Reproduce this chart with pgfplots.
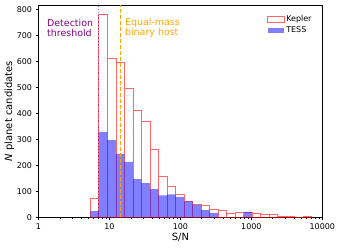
\documentclass[border=0pt]{standalone}
\usepackage{pgfplots}
\pgfplotsset{compat=1.18}
\usepackage{fontspec}
\setmainfont{DejaVu Sans}
\definecolor{kep}{RGB}{255,0,0}
\definecolor{tess}{RGB}{0,0,255}
\definecolor{detcol}{RGB}{128,0,128}
\definecolor{eqcol}{RGB}{255,165,0}
\begin{document}
\begin{tikzpicture}
\begin{axis}[
  name=ax, scale only axis, width=283.8bp, height=212.3bp,
  xmode=log, xmin=1, xmax=10000, ymin=0, ymax=816,
  xtick={1,10,100,1000,10000}, xticklabels={1,10,100,1000,10000},
  minor xtick={2,3,4,5,6,7,8,9,20,30,40,50,60,70,80,90,200,300,400,500,600,700,800,900,2000,3000,4000,5000,6000,7000,8000,9000},
  ytick={0,100,...,800},
  xtick pos=bottom, ytick pos=left, tick align=outside,
  major tick length=3bp, minor tick length=1.8bp,
  every tick/.style={black, line width=0.6bp},
  axis line style={line width=0.65bp, black},
  /pgf/number format/assume math mode=true,
  tick label style={font=\fontsize{8}{9.6}\selectfont},
  xlabel={S/N}, ylabel={\textit{N} planet candidates},
  label style={font=\fontsize{8}{9.6}\selectfont},
  every axis x label/.style={at={(axis description cs:0.5,-0.094)}, anchor=center},
  every axis y label/.style={at={(axis description cs:-0.103,0.5)}, anchor=center, rotate=90},
  legend style={at={(axis description cs:1,1)}, anchor=north east, xshift=-6bp, yshift=-7bp,
    draw=none, fill=none, font=\fontsize{8}{9.6}\selectfont, row sep=0bp,
    nodes={inner sep=1.6bp}},
  legend cell align=left,
]
\addplot[ybar interval, draw=kep, draw opacity=0.6, fill=none, line width=0.8bp,
  legend image code/.code={\draw[draw=kep, draw opacity=0.6, line width=0.8bp] (0bp,-2.7bp) rectangle (16.7bp,2.7bp);}]
coordinates {
(5.386,73) (7.1,778) (9.360,610) (12.338,596) (16.265,496) (21.442,412)
(28.266,369) (37.261,261) (49.120,158) (64.753,118) (85.36,88) (112.53,61)
(148.34,50) (195.55,46) (257.78,31) (339.83,27) (447.98,15) (590.55,19)
(778.5,19) (1026.2,16) (1352.9,13) (1783.4,12) (2351.0,5) (3099.3,5)
(4085.6,0) (5385.9,5) (7100,5)
};
\addlegendentry{Kepler}
\addplot[ybar interval, draw=none, fill=tess, fill opacity=0.5,
  legend image code/.code={\fill[tess, fill opacity=0.5] (0bp,-2.7bp) rectangle (16.7bp,2.7bp);}]
coordinates {
(5.386,24) (7.1,328) (9.360,297) (12.338,244) (16.265,213) (21.442,147)
(28.266,131) (37.261,108) (49.120,84) (64.753,88) (85.36,79) (112.53,61)
(148.34,48) (195.55,28) (257.78,17) (339.83,17)
};
\addlegendentry{TESS}
\addplot[ybar interval, draw=none, fill=tess, fill opacity=0.5, forget plot]
coordinates {(778.5,19) (1026.2,19)};
\addplot[forget plot, detcol, draw opacity=0.6, dotted, line width=1.2bp] coordinates {(7.1,0) (7.1,816)};
\addplot[forget plot, eqcol, dash pattern=on 4bp off 2bp, line width=1bp] coordinates {(14.2,0) (14.2,816)};
\node[anchor=east, align=left, inner sep=0, text=detcol, font=\fontsize{9.5}{10.7}\selectfont] at (axis cs:5.92,728) {Detection\\threshold};
\node[anchor=west, align=left, inner sep=0, text=eqcol, font=\fontsize{9.5}{10.7}\selectfont] at (axis cs:16.5,728) {Equal-mass\\binary host};
\end{axis}
\pgfresetboundingbox
\path[use as bounding box] ([shift={(-38.5bp,-30.7bp)}]ax.south west) rectangle ([shift={(18.7bp,5bp)}]ax.north east);
\end{tikzpicture}
\end{document}
